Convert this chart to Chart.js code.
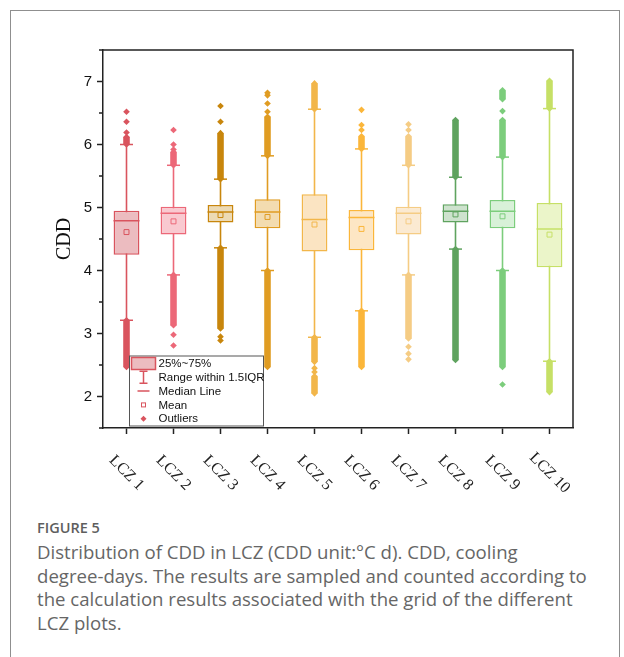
<!doctype html>
<html>
<head>
<meta charset="utf-8">
<title>CDD in LCZ</title>
<script src="https://cdn.jsdelivr.net/npm/chart.js@4/dist/chart.umd.min.js"></script>
<style>
  html, body { margin: 0; padding: 0; background: #fff; }
  body { width: 624px; height: 657px; position: relative; overflow: hidden; }
  #card { position: absolute; left: 10px; top: 10px; width: 610px; height: 700px; border: 1.5px solid #8f8f8f; box-sizing: border-box; }
  #chart-area { position: absolute; left: 0; top: 0; }
  #fig { position: absolute; left: 37px; top: 519px; font: 600 14.5px "Open Sans", sans-serif; color: #5e5e5e; line-height: 18px; }
  #caption { position: absolute; left: 37px; top: 540px; font: 18.6px "Open Sans", sans-serif; color: #666; line-height: 23.5px; white-space: nowrap; }
</style>
</head>
<body>
<div id="card"></div>
<canvas id="chart-area" width="624" height="510"></canvas>
<div id="fig">FIGURE 5</div>
<div id="caption">Distribution of CDD in LCZ (CDD unit:°C d). CDD, cooling<br>degree-days. The results are sampled and counted according to<br>the calculation results associated with the grid of the different<br>LCZ plots.</div>
<script>
// values
var categories = ['LCZ 1', 'LCZ 2', 'LCZ 3', 'LCZ 4', 'LCZ 5', 'LCZ 6', 'LCZ 7', 'LCZ 8', 'LCZ 9', 'LCZ 10'];
var q1 = [4.25, 4.57, 4.76, 4.67, 4.30, 4.32, 4.57, 4.76, 4.67, 4.05];
var median = [4.79, 4.91, 4.93, 4.93, 4.81, 4.84, 4.91, 4.94, 4.94, 4.66];
var q3 = [4.95, 5.01, 5.04, 5.13, 5.21, 4.96, 5.01, 5.05, 5.12, 5.07];
var mean = [4.61, 4.78, 4.88, 4.85, 4.73, 4.66, 4.78, 4.89, 4.86, 4.57];
var whiskerLow = [3.21, 3.93, 4.36, 4.00, 2.94, 3.36, 3.93, 4.34, 4.00, 2.56];
var whiskerHigh = [6.00, 5.67, 5.45, 5.82, 6.56, 5.93, 5.67, 5.48, 5.80, 6.57];
// outliers packed so tightly they form a column
var lowerDense = [[2.47, 3.21], [3.13, 3.93], [3.08, 4.36], [2.47, 4.00], [2.55, 2.94], [2.47, 3.36], [2.92, 3.93], [2.58, 4.34], [2.47, 4.00], [2.07, 2.56]];
var upperDense = [[6.00, 6.12], [5.67, 5.88], [5.45, 6.18], [5.82, 6.44], [6.56, 6.97], [5.93, 6.13], [5.67, 6.13], [5.48, 6.39], [5.80, 6.39], [6.57, 7.01]];
var extraDense = [null, null, null, null, [2.05, 2.32], null, null, null, [6.72, 6.86], null];
// single outliers
var outliers = [
  ['LCZ 1', 6.19], ['LCZ 1', 6.36], ['LCZ 1', 6.52],
  ['LCZ 2', 5.92], ['LCZ 2', 6.00], ['LCZ 2', 6.23], ['LCZ 2', 2.98], ['LCZ 2', 2.81],
  ['LCZ 3', 6.36], ['LCZ 3', 6.61], ['LCZ 3', 2.95], ['LCZ 3', 2.89],
  ['LCZ 4', 6.52], ['LCZ 4', 6.65], ['LCZ 4', 6.78], ['LCZ 4', 6.82],
  ['LCZ 5', 2.45], ['LCZ 5', 2.39],
  ['LCZ 6', 6.23], ['LCZ 6', 6.31], ['LCZ 6', 6.55],
  ['LCZ 7', 6.23], ['LCZ 7', 6.32], ['LCZ 7', 2.79], ['LCZ 7', 2.68], ['LCZ 7', 2.59],
  ['LCZ 9', 6.53], ['LCZ 9', 2.19]
];
var yTicks = [2, 3, 4, 5, 6, 7];

var strokeColors = ['#d9545e', '#ec6878', '#c8860c', '#e09c22', '#f2b64a', '#fbb63a', '#f5cc84', '#5fa35f', '#7ccd7c', '#c6e066'];
var fillColors = ['#ecbcc0', '#f9c9d0', '#ecdab4', '#f3dcb0', '#fbe4c2', '#fde6c4', '#fbead2', '#cde2cd', '#d8f1d8', '#ebf5c9'];

var idxOf = function(ctx) {
  var r = ctx.raw;
  if (r && typeof r === 'object' && !Array.isArray(r) && r.x !== undefined) return categories.indexOf(r.x);
  return ctx.dataIndex;
};
var strokeOf = function(ctx) { return strokeColors[idxOf(ctx)]; };

var bandEnds = [];
[lowerDense, upperDense, extraDense].forEach(function(arr) {
  arr.forEach(function(b, i) {
    if (b) { bandEnds.push({x: categories[i], y: b[0]}); bandEnds.push({x: categories[i], y: b[1]}); }
  });
});
var outlierPts = outliers.map(function(o) { return {x: o[0], y: o[1]}; }).concat(bandEnds);

var pointSet = function(data, style, radius, width, fill) {
  return {
    type: 'line', data: data, showLine: false, order: 0,
    pointStyle: style, pointRadius: radius, pointHoverRadius: radius,
    pointBorderWidth: width, pointHoverBorderWidth: width,
    pointBorderColor: strokeOf, pointBackgroundColor: fill || strokeOf
  };
};

var barSet = function(data, pct, order, fill, border) {
  return {
    type: 'bar', data: data, grouped: false, order: order,
    barPercentage: pct, categoryPercentage: 1,
    backgroundColor: fill, borderColor: strokeColors,
    borderWidth: border, borderSkipped: false
  };
};

var boxes = q1.map(function(v, i) { return [v, q3[i]]; });
var whiskers = whiskerLow.map(function(v, i) { return [v, whiskerHigh[i]]; });

var extras = {
  id: 'extras',
  afterDraw: function(chart) {
    var ctx = chart.ctx, a = chart.chartArea, x = chart.scales.x, y = chart.scales.y;
    ctx.save();
    ctx.strokeStyle = '#222';
    ctx.lineWidth = 1.5;
    ctx.beginPath();
    ctx.moveTo(a.left, a.top); ctx.lineTo(a.right, a.top); ctx.lineTo(a.right, a.bottom);
    // minor y ticks
    y.ticks.forEach(function(t, i) {
      if (yTicks.indexOf(t.value) < 0) {
        var py = y.getPixelForTick(i);
        ctx.moveTo(a.left - 4, py); ctx.lineTo(a.left, py);
      }
    });
    ctx.moveTo(a.left - 4, a.top); ctx.lineTo(a.left, a.top);
    ctx.stroke();

    // rotated category labels
    ctx.fillStyle = '#222';
    ctx.font = '16px "Liberation Serif", "Times New Roman", serif';
    ctx.textAlign = 'center';
    ctx.textBaseline = 'middle';
    categories.forEach(function(c, i) {
      ctx.save();
      ctx.translate(x.getPixelForTick(i), a.bottom + 45);
      ctx.rotate(Math.PI / 4);
      ctx.fillText(c, 0, 0);
      ctx.restore();
    });

    // legend inside the plot
    var lx = a.left + 26.5, ly = a.bottom - 72, lw = 134, lh = 70;
    ctx.fillStyle = '#fff';
    ctx.fillRect(lx, ly, lw, lh);
    ctx.strokeStyle = '#555';
    ctx.lineWidth = 1;
    ctx.strokeRect(lx, ly, lw, lh);
    var c0 = strokeColors[0], f0 = fillColors[0], sx = lx + 14;
    var row = function(k) { return ly + 7.5 + k * 13.8; };
    ctx.fillStyle = f0; ctx.strokeStyle = c0; ctx.lineWidth = 1.5;
    ctx.fillRect(lx + 2, row(0) - 6, 24, 12);
    ctx.strokeRect(lx + 2, row(0) - 6, 24, 12);
    ctx.beginPath();
    ctx.moveTo(sx - 4, row(1) - 6); ctx.lineTo(sx + 4, row(1) - 6);
    ctx.moveTo(sx, row(1) - 6); ctx.lineTo(sx, row(1) + 6);
    ctx.moveTo(sx - 4, row(1) + 6); ctx.lineTo(sx + 4, row(1) + 6);
    ctx.moveTo(sx - 6, row(2)); ctx.lineTo(sx + 6, row(2));
    ctx.stroke();
    ctx.lineWidth = 1;
    ctx.strokeRect(sx - 2, row(3) - 2, 4, 4);
    ctx.fillStyle = c0;
    ctx.beginPath();
    ctx.moveTo(sx - 3, row(4)); ctx.lineTo(sx, row(4) - 3); ctx.lineTo(sx + 3, row(4)); ctx.lineTo(sx, row(4) + 3);
    ctx.closePath(); ctx.fill();
    ctx.fillStyle = '#111';
    ctx.font = '11.5px "Liberation Sans", Arial, sans-serif';
    ctx.textAlign = 'left';
    ['25%~75%', 'Range within 1.5IQR', 'Median Line', 'Mean', 'Outliers'].forEach(function(t, k) {
      ctx.fillText(t, lx + 29, row(k) + 0.5);
    });
    ctx.restore();
  }
};

var config = {
  data: {
    labels: categories,
    datasets: [
      barSet(whiskers, 0.034, 3, strokeColors, 0),
      barSet(lowerDense, 0.14, 3, strokeColors, 0),
      barSet(upperDense, 0.14, 3, strokeColors, 0),
      barSet(extraDense, 0.14, 3, strokeColors, 0),
      barSet(boxes, 0.55, 1, fillColors, 1.5),
      pointSet(median, 'line', 13, 1.5),
      pointSet(whiskerLow, 'line', 6.5, 1.5),
      pointSet(whiskerHigh, 'line', 6.5, 1.5),
      pointSet(mean, 'rect', 3.5, 1, function(ctx) { return fillColors[ctx.dataIndex]; }),
      pointSet(outlierPts, 'rectRot', 3.3, 0)
    ]
  },
  options: {
    responsive: false,
    animation: false,
    devicePixelRatio: 1,
    layout: { padding: { top: 50, right: 51, left: 0, bottom: 0 } },
    plugins: { legend: { display: false }, tooltip: { enabled: false } },
    scales: {
      x: {
        type: 'category',
        offset: true,
        afterFit: function(s) { s.height = 82; },
        grid: { offset: false, drawOnChartArea: false, drawTicks: true, tickLength: 6, tickColor: '#222', tickWidth: 1.5 },
        border: { display: true, color: '#222', width: 1.5 },
        ticks: { display: false }
      },
      y: {
        min: 1.5, max: 7.5,
        afterFit: function(s) { s.width = 103; },
        afterBuildTicks: function(s) {
          var t = [];
          for (var v = 1.5; v <= 7.5 + 1e-9; v += 0.5) t.push({value: v});
          s.ticks = t;
        },
        grid: {
          drawOnChartArea: false, drawTicks: true, tickLength: 6, tickWidth: 1.5,
          tickColor: function(ctx) { return yTicks.indexOf(ctx.tick.value) >= 0 ? '#222' : 'rgba(0,0,0,0)'; }
        },
        border: { display: true, color: '#222', width: 1.5 },
        ticks: {
          padding: 5, color: '#111',
          font: { family: '"Liberation Sans", Arial, sans-serif', size: 15 },
          callback: function(v) { return yTicks.indexOf(v) >= 0 ? String(v) : ''; }
        },
        title: {
          display: true, text: 'CDD', color: '#111',
          font: { family: '"Liberation Serif", "Times New Roman", serif', size: 20 },
          padding: { top: 53, bottom: 0 }
        }
      }
    }
  },
  plugins: [extras]
};

window.onload = function() {
  var ctx = document.getElementById('chart-area').getContext('2d');
  window.myBox = new Chart(ctx, config);
};
</script>
</body>
</html>
